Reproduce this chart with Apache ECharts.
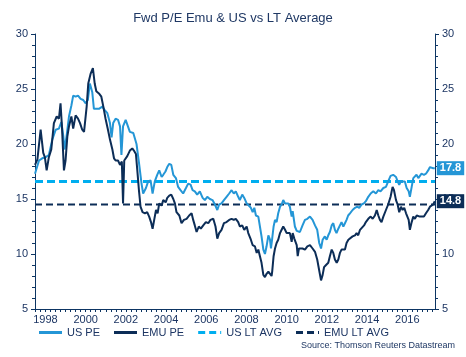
<!DOCTYPE html>
<html>
<head>
<meta charset="utf-8">
<script src="https://cdn.jsdelivr.net/npm/echarts@6/dist/echarts.min.js"></script>
<style>
html,body{margin:0;padding:0;background:#fff;}
#c{width:466px;height:357px;}
</style>
</head>
<body>
<div id="c"></div>
<script>
// ---- data (decimal year, forward P/E) ----
var usPE = [
[1997.48,17.3],[1997.68,18.5],[1997.84,18.7],[1998.01,18.8],[1998.17,19.0],[1998.34,20.4],[1998.51,21.3],[1998.67,21.4],
[1998.79,22.0],[1998.89,20.7],[1998.95,19.5],[1999.05,20.7],[1999.17,22.5],[1999.29,23.5],[1999.38,24.4],[1999.50,24.3],
[1999.62,24.4],[1999.75,24.1],[1999.88,24.0],[2000.00,23.7],[2000.11,24.0],[2000.21,25.5],[2000.33,24.7],[2000.41,23.2],
[2000.50,23.1],[2000.66,23.2],[2000.83,23.4],[2000.94,23.1],[2001.08,22.8],[2001.21,21.9],[2001.29,20.6],[2001.37,21.9],
[2001.49,22.3],[2001.61,22.2],[2001.71,21.6],[2001.78,19.0],[2001.86,21.6],[2001.99,22.2],[2002.07,22.2],[2002.20,21.1],
[2002.37,21.0],[2002.53,20.0],[2002.66,18.2],[2002.78,16.4],[2002.86,15.5],[2003.00,16.0],[2003.11,16.6],[2003.23,16.7],
[2003.33,15.5],[2003.44,16.6],[2003.56,17.2],[2003.66,17.6],[2003.78,17.0],[2003.86,17.2],[2003.97,17.5],[2004.06,17.9],
[2004.16,18.2],[2004.26,18.1],[2004.36,17.2],[2004.49,16.9],[2004.60,16.1],[2004.72,15.8],[2004.85,15.5],[2004.99,16.0],
[2005.10,16.4],[2005.22,16.3],[2005.32,15.8],[2005.43,15.7],[2005.55,15.4],[2005.68,15.7],[2005.82,15.1],[2005.93,14.9],
[2006.05,15.2],[2006.18,15.0],[2006.31,14.9],[2006.43,14.5],[2006.55,14.0],[2006.64,14.5],[2006.76,14.6],[2006.88,14.9],
[2007.01,15.2],[2007.14,15.5],[2007.26,15.8],[2007.37,15.5],[2007.47,15.7],[2007.59,15.2],[2007.67,14.9],[2007.79,15.4],
[2007.89,15.1],[2008.01,14.6],[2008.09,14.5],[2008.22,14.2],[2008.31,13.8],[2008.39,14.2],[2008.47,13.5],[2008.59,13.4],
[2008.67,12.5],[2008.75,11.6],[2008.84,10.4],[2008.92,10.0],[2009.00,10.7],[2009.09,11.7],[2009.17,11.3],[2009.22,10.5],
[2009.28,11.4],[2009.35,12.5],[2009.42,13.1],[2009.50,12.9],[2009.58,13.7],[2009.67,14.3],[2009.75,14.5],[2009.83,14.9],
[2009.92,14.6],[2010.00,14.5],[2010.08,14.6],[2010.16,14.3],[2010.25,13.4],[2010.30,13.9],[2010.41,12.5],[2010.50,12.1],
[2010.58,12.0],[2010.66,12.0],[2010.79,12.6],[2010.91,13.1],[2011.03,13.2],[2011.16,13.4],[2011.29,13.1],[2011.41,12.6],
[2011.52,12.2],[2011.62,11.0],[2011.71,10.5],[2011.79,11.3],[2011.90,11.6],[2011.99,11.3],[2012.07,11.7],[2012.15,12.0],
[2012.24,12.6],[2012.32,12.8],[2012.40,12.2],[2012.48,11.9],[2012.57,12.3],[2012.65,12.6],[2012.73,12.9],[2012.82,12.5],
[2012.90,12.8],[2012.98,13.1],[2013.06,13.5],[2013.15,13.7],[2013.28,14.0],[2013.40,14.2],[2013.51,14.3],[2013.61,14.2],
[2013.73,14.5],[2013.84,14.6],[2013.94,14.8],[2014.06,15.2],[2014.18,15.5],[2014.31,15.7],[2014.44,15.5],[2014.56,15.8],
[2014.67,15.7],[2014.81,16.0],[2014.94,16.1],[2015.05,16.6],[2015.17,17.1],[2015.30,17.2],[2015.44,17.0],[2015.52,16.6],
[2015.60,16.3],[2015.68,16.6],[2015.77,16.7],[2015.88,16.6],[2015.97,16.0],[2016.07,15.7],[2016.13,15.2],[2016.22,16.1],
[2016.30,16.9],[2016.38,17.0],[2016.46,17.2],[2016.55,16.9],[2016.63,17.0],[2016.71,17.3],[2016.83,17.2],[2016.93,17.3],
[2017.04,17.6],[2017.13,17.9],[2017.21,17.8],[2017.29,17.8],[2017.37,17.8]
];
var emuPE = [
[1997.48,18.1],[1997.60,18.6],[1997.76,21.3],[1997.89,19.2],[1997.97,18.8],[1998.06,17.6],[1998.17,18.8],[1998.29,19.5],
[1998.42,21.9],[1998.56,22.5],[1998.67,22.3],[1998.75,23.7],[1998.82,21.6],[1998.92,17.6],[1999.00,18.5],[1999.09,20.7],
[1999.17,21.6],[1999.29,22.5],[1999.38,21.4],[1999.50,22.6],[1999.62,22.3],[1999.72,21.9],[1999.83,21.3],[1999.92,21.1],
[2000.05,23.4],[2000.13,25.5],[2000.25,26.4],[2000.36,26.9],[2000.45,25.5],[2000.53,24.8],[2000.66,24.6],[2000.78,24.3],
[2000.88,23.4],[2000.99,22.3],[2001.11,21.3],[2001.21,20.4],[2001.33,19.5],[2001.41,18.7],[2001.49,18.5],[2001.61,18.5],
[2001.71,18.1],[2001.80,18.4],[2001.86,14.6],[2001.92,18.5],[2002.07,18.9],[2002.20,19.4],[2002.32,19.6],[2002.40,19.4],
[2002.50,19.1],[2002.57,17.6],[2002.65,15.8],[2002.73,14.3],[2002.83,13.8],[2002.95,13.7],[2003.06,13.8],[2003.16,13.4],
[2003.25,12.9],[2003.33,12.3],[2003.41,13.1],[2003.50,14.0],[2003.58,13.7],[2003.66,14.6],[2003.78,14.4],[2003.86,14.9],
[2003.98,14.7],[2004.06,15.1],[2004.16,15.3],[2004.26,15.4],[2004.36,15.0],[2004.44,14.6],[2004.52,13.8],[2004.66,13.5],
[2004.77,12.8],[2004.89,13.1],[2005.02,13.2],[2005.15,13.5],[2005.27,13.7],[2005.35,13.1],[2005.43,12.6],[2005.52,12.0],
[2005.63,12.5],[2005.73,12.3],[2005.85,12.6],[2005.98,12.9],[2006.10,12.8],[2006.21,13.1],[2006.35,13.2],[2006.46,12.5],
[2006.55,11.4],[2006.64,11.9],[2006.76,12.2],[2006.88,12.8],[2007.01,12.9],[2007.14,13.1],[2007.26,13.2],[2007.37,13.1],
[2007.47,13.2],[2007.59,12.9],[2007.67,12.5],[2007.79,12.6],[2007.89,12.2],[2008.01,12.5],[2008.09,11.9],[2008.22,11.3],
[2008.31,10.8],[2008.42,10.7],[2008.51,10.1],[2008.59,10.4],[2008.67,9.8],[2008.75,9.2],[2008.84,8.1],[2008.92,7.9],
[2009.00,8.2],[2009.09,8.4],[2009.17,8.5],[2009.25,8.0],[2009.28,8.4],[2009.35,9.8],[2009.42,10.5],[2009.50,11.0],
[2009.58,11.3],[2009.67,11.9],[2009.75,12.2],[2009.83,12.5],[2009.92,12.2],[2010.00,11.9],[2010.08,12.0],[2010.16,11.9],
[2010.25,11.1],[2010.30,11.9],[2010.38,11.4],[2010.50,10.8],[2010.55,9.8],[2010.61,10.5],[2010.68,10.5],[2010.79,10.5],
[2010.91,10.4],[2011.03,10.7],[2011.16,10.8],[2011.29,10.5],[2011.41,10.2],[2011.52,9.5],[2011.62,8.5],[2011.71,7.6],
[2011.79,8.1],[2011.86,8.8],[2011.96,9.0],[2012.07,9.2],[2012.15,9.8],[2012.24,10.4],[2012.32,10.1],[2012.40,9.5],
[2012.49,9.2],[2012.57,9.5],[2012.65,10.1],[2012.73,10.4],[2012.82,10.5],[2012.90,10.4],[2012.98,11.0],[2013.07,11.3],
[2013.15,11.3],[2013.28,11.6],[2013.40,11.7],[2013.48,11.9],[2013.56,11.7],[2013.65,12.2],[2013.73,12.3],[2013.85,12.6],
[2013.94,12.9],[2014.06,13.2],[2014.18,13.4],[2014.28,13.2],[2014.39,13.5],[2014.48,14.0],[2014.56,13.5],[2014.64,13.1],
[2014.72,12.9],[2014.81,13.4],[2014.94,14.0],[2015.05,14.5],[2015.17,15.2],[2015.27,16.1],[2015.34,15.8],[2015.44,14.9],
[2015.52,14.5],[2015.60,13.8],[2015.69,14.3],[2015.77,14.0],[2015.85,14.2],[2015.94,13.7],[2016.00,13.8],[2016.07,13.1],
[2016.13,12.2],[2016.22,12.9],[2016.30,13.4],[2016.38,13.2],[2016.47,13.5],[2016.55,13.4],[2016.63,13.4],[2016.71,13.5],
[2016.83,13.4],[2016.93,13.7],[2017.04,14.0],[2017.13,14.3],[2017.21,14.2],[2017.29,14.5],[2017.37,14.8]
];
var usLtAvg = 16.6;
var emuLtAvg = 14.5;
var xStart = 1997.48, xEnd = 2017.38;
var yearLabels = [1998, 2000, 2002, 2004, 2006, 2008, 2010, 2012, 2014, 2016];
var seriesNames = ['US PE', 'EMU PE', 'US LT AVG', 'EMU LT AVG'];

// ---- styling ----
var NAVY = '#0c2d57', LIGHT = '#2496d6', CYAN = '#00aeef', AXIS = '#0d3563', TXT = '#1c3563';
var FONT = 'Liberation Sans, Arial, sans-serif';
var DASH_ICON = 'path://M0,0h7v3h-7zM11,0h7v3h-7zM22,0h1v3h-1z';

var quarterTicks = [];
for (var q = Math.ceil(xStart * 4) / 4; q <= xEnd; q += 0.25) quarterTicks.push(q);

function yAxis(pos) {
  return {
    type: 'value', position: pos, min: 5, max: 30, interval: 5,
    axisLine: { show: true, lineStyle: { color: AXIS, width: 1 } },
    axisTick: { show: true, length: 4, lineStyle: { color: AXIS } },
    minorTick: { show: true, splitNumber: 5, length: 3, lineStyle: { color: AXIS } },
    splitLine: { show: false },
    axisLabel: { color: TXT, fontSize: 11, fontFamily: FONT, margin: 7 }
  };
}

var chart = echarts.init(document.getElementById('c'), null, { renderer: 'canvas' });
chart.setOption({
  animation: false,
  backgroundColor: '#fff',
  title: {
    text: 'Fwd P/E Emu & US vs LT Average', left: 'center', top: 7,
    textStyle: { color: '#1f3864', fontSize: 13, fontWeight: 'normal', fontFamily: FONT }
  },
  grid: { left: 35, right: 31, top: 34, bottom: 48, containLabel: false },
  xAxis: {
    type: 'value', min: xStart, max: xEnd,
    axisLine: { show: true, onZero: false, lineStyle: { color: AXIS, width: 1 } },
    axisTick: { show: true, length: 3, customValues: quarterTicks, lineStyle: { color: AXIS } },
    splitLine: { show: false },
    axisLabel: {
      customValues: yearLabels, color: TXT, fontSize: 11, fontFamily: FONT, margin: 5,
      formatter: function (v) { return String(Math.round(v)); }
    }
  },
  yAxis: [yAxis('left'), yAxis('right')],
  legend: {
    data: [
      { name: seriesNames[0], icon: 'rect' },
      { name: seriesNames[1], icon: 'rect' },
      { name: seriesNames[2], icon: DASH_ICON },
      { name: seriesNames[3], icon: DASH_ICON }
    ],
    left: 39, top: 327, itemWidth: 23, itemHeight: 3, itemGap: 14, padding: 0,
    textStyle: { color: TXT, fontSize: 11, fontFamily: FONT }
  },
  graphic: [{
    type: 'text', right: 11, top: 341,
    style: { text: 'Source: Thomson Reuters Datastream', fill: '#1f3864', fontSize: 9, fontFamily: FONT }
  }],
  series: [
    {
      name: 'US LT AVG', type: 'line', symbol: 'none', z: 2,
      data: [[xStart, usLtAvg], [xEnd, usLtAvg]],
      lineStyle: { color: CYAN, width: 3, type: [8, 4] }, itemStyle: { color: CYAN }
    },
    {
      name: 'EMU LT AVG', type: 'line', symbol: 'none', z: 2,
      data: [[xStart, emuLtAvg], [xEnd, emuLtAvg]],
      lineStyle: { color: NAVY, width: 2, type: [7, 4] }, itemStyle: { color: NAVY }
    },
    {
      name: 'US PE', type: 'line', symbol: 'none', z: 3, data: usPE,
      lineStyle: { color: LIGHT, width: 2 }, itemStyle: { color: LIGHT },
      endLabel: {
        show: true, distance: 2, formatter: function (p) { return p.value[1].toFixed(1); },
        color: '#fff', backgroundColor: LIGHT, padding: [2, 3, 1, 3], fontSize: 11, fontWeight: 'bold', fontFamily: FONT
      }
    },
    {
      name: 'EMU PE', type: 'line', symbol: 'none', z: 4, data: emuPE,
      lineStyle: { color: NAVY, width: 2 }, itemStyle: { color: NAVY },
      endLabel: {
        show: true, distance: 2, formatter: function (p) { return p.value[1].toFixed(1); },
        color: '#fff', backgroundColor: NAVY, padding: [2, 3, 1, 3], fontSize: 11, fontWeight: 'bold', fontFamily: FONT
      }
    }
  ]
});
</script>
</body>
</html>
